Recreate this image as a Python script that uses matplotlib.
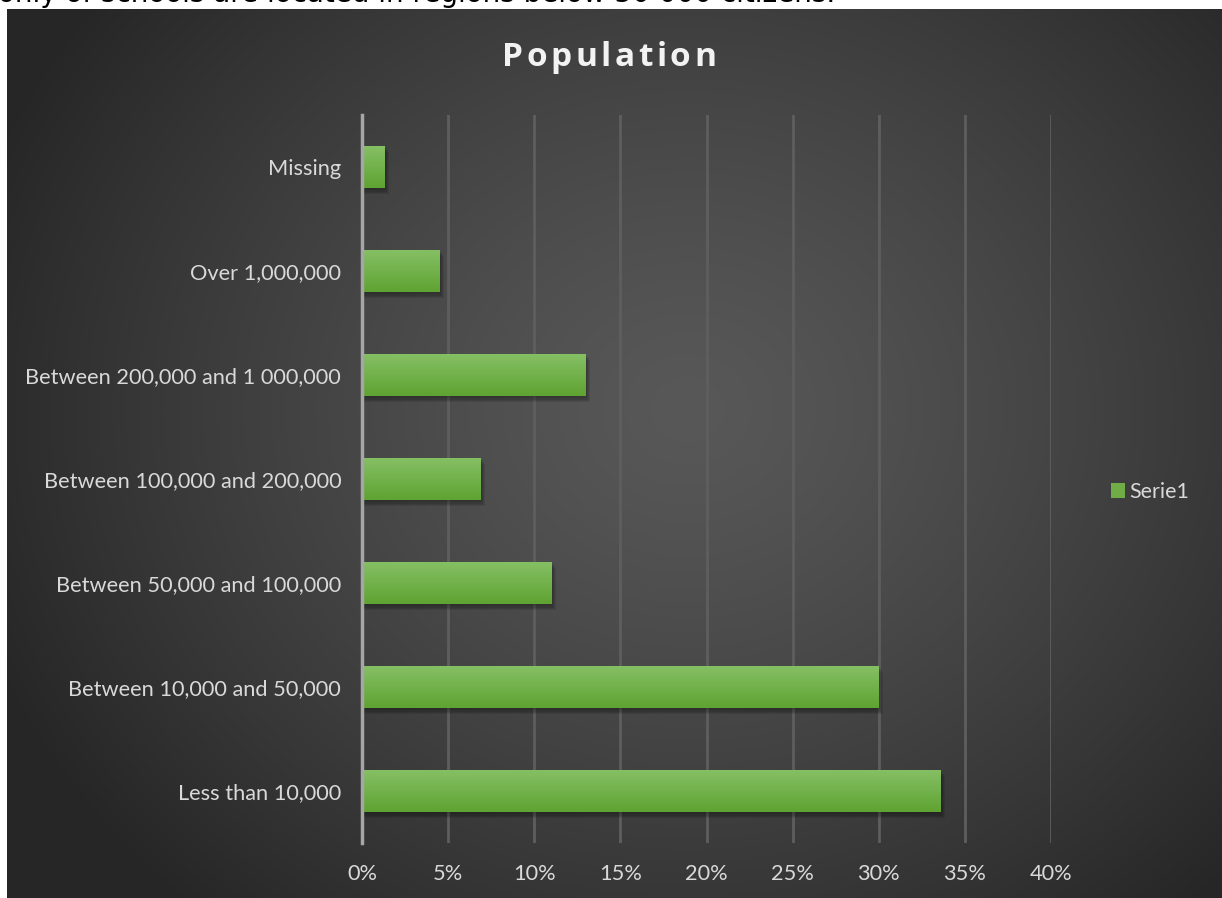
import numpy as np
import matplotlib.pyplot as plt
from matplotlib.ticker import PercentFormatter

categories = ['Less than 10,000', 'Between 10,000 and 50,000', 'Between 50,000 and 100,000',
              'Between 100,000 and 200,000', 'Between 200,000 and 1 000,000', 'Over 1,000,000', 'Missing']
values = [33.6, 30.0, 11.0, 6.9, 13.0, 4.5, 1.3]
xticks = [0, 5, 10, 15, 20, 25, 30, 35, 40]

plt.rcParams['font.family'] = ['Lato', 'DejaVu Sans']

W, H = 1222, 898
fig = plt.figure(figsize=(W / 100, H / 100), dpi=100)
fig.patch.set_facecolor('white')

# text line from the page above the chart, cut off by the top edge
fig.text(-2 / W, 1.0 - 2 / H, 'only of schools are located in regions below 50 000 citizens.',
         fontsize=20, color='black', ha='left', va='baseline', family='DejaVu Sans')

# dark panel with radial gradient
px0, py0 = 7, 9
bg = fig.add_axes([px0 / W, 0, (W - px0) / W, (H - py0) / H])
gh, gw = H - py0, W - px0
yy, xx = np.mgrid[0:gh, 0:gw]
cx, cy = gw * 0.56, gh * 0.45
r = np.sqrt(((xx - cx) / (gw * 0.62)) ** 2 + ((yy - cy) / (gh * 0.75)) ** 2)
r = np.clip(r, 0, 1)
lv = 0.345 - (0.345 - 0.15) * r ** 1.3
bg.imshow(np.dstack([lv, lv, lv]), aspect='auto', extent=[0, 1, 0, 1], interpolation='bilinear')
bg.set_axis_off()

ax = fig.add_axes([362 / W, (H - 843) / H, (1051 - 362) / W, (843 - 115) / H])
ax.set_facecolor('none')

ypos = np.arange(len(categories))
bars = ax.barh(ypos, values, height=0.41, color='#70ad47', zorder=3)

# soft shadow below and right of the bars
for k in range(4):
    off = 0.02 + k * 0.012
    ax.barh(ypos - off, [v + 0.08 + k * 0.06 for v in values], height=0.41,
            color='black', alpha=0.09, zorder=2, linewidth=0)

# vertical gradient inside each bar
grad = np.linspace(0, 1, 64)[:, None]
c_top = np.array([0x86, 0xc0, 0x66]) / 255
c_bot = np.array([0x5f, 0xa3, 0x31]) / 255
gimg = (c_top[None, None, :] * (1 - grad[..., None]) + c_bot[None, None, :] * grad[..., None])
for b in bars:
    x0, y0 = b.get_x(), b.get_y()
    im = ax.imshow(gimg, aspect='auto', extent=[x0, x0 + b.get_width(), y0, y0 + b.get_height()],
                   origin='upper', zorder=4, interpolation='bilinear')
    im.set_clip_path(b)

ax.set_xlim(0, 40)
ax.set_ylim(-0.5, len(categories) - 0.5)
ax.set_xticks(xticks)
ax.xaxis.set_major_formatter(PercentFormatter(decimals=0))
ax.set_yticks(ypos)
ax.set_yticklabels(categories)
ax.grid(axis='x', color='#5e5e5e', linewidth=2, zorder=1)
ax.set_axisbelow(True)
for s in ['top', 'right', 'bottom']:
    ax.spines[s].set_visible(False)
ax.spines['left'].set_color('#a6a6a6')
ax.spines['left'].set_linewidth(2.5)
ax.spines['left'].set_zorder(5)
ax.tick_params(axis='both', length=0, colors='#d9d9d9', labelsize=15.7)
ax.tick_params(axis='y', pad=15)
ax.tick_params(axis='x', pad=15)

# letter-spaced title, placed one character at a time
title = 'Population'
tprops = dict(fontsize=24, fontweight='bold', color='#f2f2f2', family=['Open Sans', 'DejaVu Sans'])
renderer = fig.canvas.get_renderer()
spacing = 3.5
widths = []
for ch in title:
    t = fig.text(0, 0, ch, **tprops)
    widths.append(t.get_window_extent(renderer).width)
    t.remove()
total = sum(widths) + spacing * (len(title) - 1)
xcur = 609 - total / 2
for ch, w in zip(title, widths):
    fig.text(xcur / W, 1 - 58 / H, ch, ha='left', va='center', **tprops)
    xcur += w + spacing

leg = fig.legend([bars[0]], ['Serie1'], loc='center left', bbox_to_anchor=(1111 / W, 1 - 492 / H),
                 frameon=False, fontsize=15.5, handlelength=0.65, handleheight=0.65,
                 handletextpad=0.2, borderaxespad=0, borderpad=0)
for t in leg.get_texts():
    t.set_color('#d9d9d9')

fig.savefig('out.png', dpi=100, facecolor=fig.get_facecolor())
